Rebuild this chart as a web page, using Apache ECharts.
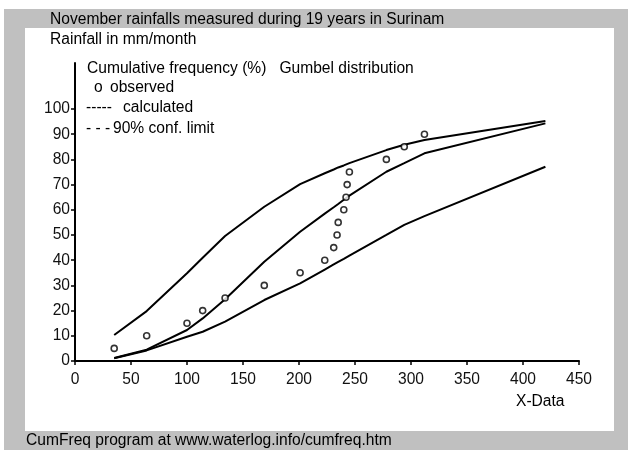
<!DOCTYPE html>
<html>
<head>
<meta charset="utf-8">
<script src="https://cdn.jsdelivr.net/npm/echarts@6/dist/echarts.min.js"></script>
<style>html,body{margin:0;padding:0;background:#fff}#c{width:628px;height:450px}</style>
</head>
<body>
<div id="c"></div>
<script>
// Observed data (rainfall mm/month vs cumulative frequency %)
const obsX = [35, 64, 100, 114, 134, 169, 201, 223, 231, 234, 235, 240, 242, 243, 245, 278, 294, 312];
const obsY = [5, 10, 15, 20, 25, 30, 35, 40, 45, 50, 55, 60, 65, 70, 75, 80, 85, 90];
// Curve vertices
const curveX = [35, 64, 100, 114, 134, 169, 201, 223, 231, 235, 240, 245, 278, 294, 312, 420];
const calcY  = [1.2, 4.5, 12.3, 16.9, 24.5, 39.4, 51.3, 58.5, 61, 62.3, 64, 65.6, 75.1, 78.5, 82.4, 94.3];
const upperY = [10.3, 19.8, 34.8, 41, 49.6, 61.2, 70.2, 74.5, 76, 76.8, 77.6, 78.5, 83.7, 85.8, 87.7, 95.2];
const lowerY = [1.1, 4.2, 9.6, 11.6, 15.6, 24.2, 30.8, 36.3, 38.3, 39.3, 40.5, 41.8, 50, 54, 57.5, 77.1];
const xTicks = [0, 50, 100, 150, 200, 250, 300, 350, 400, 450];
const yTicks = [0, 10, 20, 30, 40, 50, 60, 70, 80, 90, 100];

const FONT = "'Liberation Sans', Arial, sans-serif";
const FS = 15.6;
const pairs = (xs, ys) => xs.map((x, i) => [x, ys[i]]);
const chart = echarts.init(document.getElementById('c'), null, {renderer: 'canvas'});
const txt = (x, y, s, extra) => Object.assign({type: 'text', left: x, top: y, z: 10,
  style: {text: s, fill: '#000', font: FS + 'px ' + FONT}}, extra || {});
const lineStyle = {color: '#000', width: 2};
chart.setOption({
  animation: false,
  backgroundColor: '#fff',
  graphic: [
    {type: 'rect', shape: {x: 4, y: 9, width: 624, height: 441}, style: {fill: '#c0c0c0'}, z: -10, silent: true},
    {type: 'rect', shape: {x: 25, y: 28, width: 589, height: 403}, style: {fill: '#fff'}, z: -9, silent: true},
    txt(50, 12, 'November rainfalls measured during 19 years in Surinam'),
    txt(50, 32, 'Rainfall in mm/month'),
    txt(87, 61, 'Cumulative frequency (%)   Gumbel distribution'),
    txt(94, 80, 'o'),
    txt(110, 80, 'observed'),
    txt(86, 100, '-----'),
    txt(123, 100, 'calculated'),
    txt(86, 121, '- - -'),
    txt(113, 121, '90% conf. limit'),
    txt(516, 394, 'X-Data'),
    txt(26, 433, 'CumFreq program at www.waterlog.info/cumfreq.htm')
  ],
  grid: {left: 75, right: 49, top: 63, bottom: 89, containLabel: false},
  xAxis: {
    type: 'value', min: 0, max: 450, interval: 50,
    axisLine: {lineStyle: {color: '#000', width: 2}},
    axisTick: {length: 4, lineStyle: {color: '#000', width: 1.5}},
    axisLabel: {color: '#111', fontSize: FS, fontFamily: FONT, margin: 11,
      customValues: xTicks},
    splitLine: {show: false}
  },
  yAxis: {
    type: 'value', min: 0, max: 118.25, interval: 10,
    axisLine: {show: true, lineStyle: {color: '#000', width: 2}},
    axisTick: {show: true, length: 4, lineStyle: {color: '#000', width: 1.5}, customValues: yTicks},
    axisLabel: {color: '#111', fontSize: FS, fontFamily: FONT, margin: 5, customValues: yTicks},
    splitLine: {show: false}
  },
  series: [
    {type: 'line', data: pairs(curveX, upperY), symbol: 'none', lineStyle: lineStyle},
    {type: 'line', data: pairs(curveX, calcY), symbol: 'none', lineStyle: lineStyle},
    {type: 'line', data: pairs(curveX, lowerY), symbol: 'none', lineStyle: lineStyle},
    {type: 'scatter', data: pairs(obsX, obsY), symbol: 'circle', symbolSize: 6,
      itemStyle: {color: '#fff', borderColor: '#000', borderWidth: 1.6}, z: 5}
  ]
});
</script>
</body>
</html>
